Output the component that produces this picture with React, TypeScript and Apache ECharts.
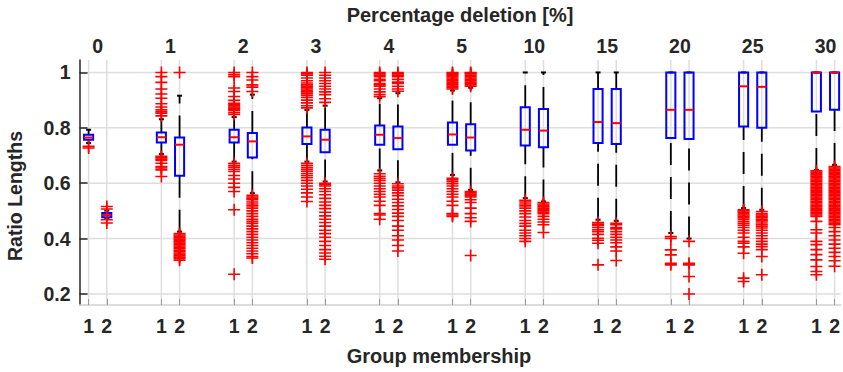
import React, { useEffect, useRef } from 'react';
import * as echarts from 'echarts';

// Percentage deletion groups (top labels)
const percentages = ['0', '1', '2', '3', '4', '5', '10', '15', '20', '25', '30'];
// Group membership labels (bottom labels)
const memberLabels = ['1', '2'];
// Y tick values
const yTickValues = [0.2, 0.4, 0.6, 0.8, 1];

// [lower whisker, q1, median, q3, upper whisker] for group membership 1
const group1Stats: number[][] = [
  [0.745, 0.757, 0.765, 0.775, 0.793],
  [0.705, 0.747, 0.766, 0.783, 0.831],
  [0.678, 0.747, 0.766, 0.793, 0.839],
  [0.678, 0.742, 0.769, 0.801, 0.865],
  [0.646, 0.739, 0.775, 0.808, 0.907],
  [0.63, 0.739, 0.776, 0.819, 0.935],
  [0.546, 0.736, 0.793, 0.874, 1.0],
  [0.468, 0.745, 0.821, 0.94, 1.0],
  [0.42, 0.763, 0.865, 1.0, 1.0],
  [0.51, 0.805, 0.95, 1.0, 1.0],
  [0.648, 0.859, 1.0, 1.0, 1.0],
];

// [lower whisker, q1, median, q3, upper whisker] for group membership 2
const group2Stats: number[][] = [
  [0.472, 0.477, 0.485, 0.492, 0.501],
  [0.425, 0.627, 0.739, 0.765, 0.916],
  [0.564, 0.693, 0.751, 0.781, 0.92],
  [0.606, 0.712, 0.757, 0.793, 0.88],
  [0.603, 0.723, 0.763, 0.805, 0.925],
  [0.576, 0.718, 0.765, 0.813, 0.945],
  [0.534, 0.73, 0.79, 0.868, 1.0],
  [0.464, 0.742, 0.817, 0.94, 1.0],
  [0.4, 0.76, 0.865, 1.0, 1.0],
  [0.504, 0.8, 0.948, 1.0, 1.0],
  [0.666, 0.865, 1.0, 1.0, 1.0],
];

const group1Outliers: number[][] = [
  [0.733, 0.727],
  [1.0, 0.985, 0.964, 0.94, 0.922, 0.907, 0.887, 0.875, 0.865, 0.858, 0.853, 0.843,
    0.697, 0.692, 0.687, 0.682, 0.672, 0.66, 0.655, 0.648, 0.624],
  [1.0, 0.992, 0.985, 0.944, 0.931, 0.913, 0.899, 0.889, 0.884, 0.88, 0.875, 0.871, 0.866, 0.863, 0.855, 0.848,
    0.672, 0.665, 0.658, 0.65, 0.642, 0.628, 0.615, 0.6, 0.585, 0.57, 0.504, 0.271],
  [1.0, 0.995, 0.99, 0.98, 0.97, 0.962, 0.955, 0.95, 0.945, 0.94, 0.935, 0.93, 0.925, 0.918, 0.91, 0.9, 0.89, 0.88, 0.872,
    0.672, 0.665, 0.657, 0.65, 0.643, 0.635, 0.628, 0.62, 0.61, 0.6, 0.59, 0.578, 0.565, 0.55, 0.534],
  [1.0, 0.995, 0.99, 0.985, 0.975, 0.97, 0.96, 0.955, 0.95, 0.94, 0.93, 0.92, 0.912,
    0.634, 0.625, 0.618, 0.61, 0.6, 0.59, 0.58, 0.57, 0.56, 0.55, 0.535, 0.52, 0.49, 0.485, 0.47],
  [1.0, 0.997, 0.993, 0.99, 0.985, 0.98, 0.975, 0.97, 0.965, 0.96, 0.955, 0.95, 0.945, 0.94,
    0.618, 0.612, 0.605, 0.598, 0.59, 0.58, 0.57, 0.56, 0.55, 0.535, 0.52, 0.49, 0.485, 0.48],
  [0.538, 0.532, 0.525, 0.518, 0.51, 0.5, 0.49, 0.478, 0.465, 0.455, 0.445, 0.43, 0.42, 0.41, 0.4, 0.39],
  [0.458, 0.452, 0.447, 0.44, 0.432, 0.425, 0.415, 0.401, 0.394, 0.383, 0.305],
  [0.407, 0.4, 0.359, 0.341, 0.311, 0.305],
  [0.504, 0.5, 0.495, 0.49, 0.485, 0.48, 0.475, 0.47, 0.462, 0.455, 0.448, 0.44, 0.43, 0.42, 0.405,
    0.39, 0.383, 0.37, 0.347, 0.257, 0.245],
  [0.645, 0.64, 0.635, 0.63, 0.625, 0.62, 0.615, 0.61, 0.605, 0.6, 0.595, 0.59, 0.585, 0.58, 0.575, 0.57, 0.565,
    0.56, 0.555, 0.55, 0.545, 0.54, 0.535, 0.53, 0.525, 0.52, 0.515, 0.51, 0.505, 0.5, 0.495, 0.49, 0.485, 0.48,
    0.462, 0.432, 0.42, 0.39, 0.378, 0.36, 0.342, 0.323, 0.299, 0.281, 0.269],
];

const group2Outliers: number[][] = [
  [0.516, 0.507, 0.468, 0.456],
  [1.0, 0.418, 0.413, 0.408, 0.403, 0.398, 0.393, 0.388, 0.383, 0.378, 0.373, 0.368, 0.363, 0.358, 0.353, 0.348,
    0.343, 0.338, 0.333, 0.328, 0.322],
  [1.0, 0.985, 0.973, 0.955, 0.947, 0.931,
    0.556, 0.55, 0.545, 0.54, 0.532, 0.525, 0.518, 0.51, 0.5, 0.49, 0.48, 0.47, 0.462, 0.455,
    0.445, 0.435, 0.425, 0.415, 0.405, 0.395, 0.385, 0.375, 0.365, 0.355, 0.345, 0.335, 0.33],
  [1.0, 0.99, 0.98, 0.97, 0.96, 0.95, 0.94, 0.93, 0.92, 0.905, 0.892,
    0.6, 0.595, 0.59, 0.58, 0.57, 0.558, 0.545, 0.532, 0.52, 0.508, 0.495, 0.482, 0.47, 0.458,
    0.445, 0.43, 0.418, 0.405, 0.39, 0.375, 0.36, 0.348, 0.336, 0.325],
  [1.0, 0.995, 0.99, 0.985, 0.975, 0.965, 0.96, 0.95, 0.94, 0.932,
    0.598, 0.59, 0.583, 0.575, 0.565, 0.555, 0.542, 0.53, 0.518, 0.505, 0.492, 0.48, 0.465,
    0.445, 0.43, 0.41, 0.395, 0.375, 0.355],
  [1.0, 0.998, 0.995, 0.99, 0.985, 0.98, 0.975, 0.97, 0.965, 0.96, 0.955, 0.95,
    0.57, 0.565, 0.56, 0.555, 0.55, 0.54, 0.53, 0.51, 0.49, 0.475, 0.462, 0.339],
  [0.53, 0.525, 0.52, 0.515, 0.51, 0.505, 0.5, 0.495, 0.49, 0.48, 0.47, 0.46, 0.45, 0.422],
  [0.455, 0.45, 0.44, 0.435, 0.425, 0.415, 0.405, 0.395, 0.385, 0.37, 0.355, 0.321],
  [0.39, 0.311, 0.305, 0.263, 0.2],
  [0.498, 0.49, 0.485, 0.48, 0.475, 0.47, 0.465, 0.46, 0.452, 0.445, 0.438, 0.43, 0.42, 0.41, 0.4,
    0.39, 0.38, 0.371, 0.36, 0.335, 0.269],
  [0.66, 0.655, 0.65, 0.645, 0.64, 0.635, 0.63, 0.625, 0.62, 0.615, 0.61, 0.605, 0.6, 0.595, 0.59, 0.585, 0.58,
    0.575, 0.57, 0.565, 0.56, 0.555, 0.55, 0.545, 0.54, 0.535, 0.53, 0.525, 0.52, 0.515, 0.51, 0.505, 0.5, 0.495,
    0.49, 0.485, 0.48, 0.475, 0.47, 0.465, 0.46, 0.455, 0.45, 0.44, 0.425, 0.41, 0.395, 0.38, 0.365, 0.35, 0.335,
    0.32, 0.3],
];

const FONT = '"Liberation Sans", Arial, Helvetica, sans-serif';
const TEXT = '#262626';
const PLUS = 'path://M10.4,0H13.6V10.4H24V13.6H13.6V24H10.4V13.6H0V10.4H10.4Z';

const boxPosition = (g: number, m: number) => g * 4 + m + 1;

export default function App() {
  const ref = useRef<HTMLDivElement>(null);

  useEffect(() => {
    document.body.style.margin = '0';
    const chart = echarts.init(ref.current!, null, { renderer: 'svg' });

    const positions: number[] = [];
    const boxData: number[][] = [];
    const outlierData: number[][] = [];
    percentages.forEach((_, g) => {
      [group1Stats, group2Stats].forEach((stats, m) => {
        const pos = boxPosition(g, m);
        positions.push(pos);
        boxData.push([pos, ...stats[g]]);
        const outs = (m === 0 ? group1Outliers : group2Outliers)[g];
        outs.forEach((v) => outlierData.push([pos, v]));
      });
    });
    const groupCenters = percentages.map((_, g) => boxPosition(g, 0) + 0.5);

    const labelStyle = {
      fontSize: 19.5,
      fontWeight: 'bold' as const,
      color: TEXT,
      fontFamily: FONT,
    };

    const option: any = {
      animation: false,
      grid: { left: 79.5, right: 0, top: 60, bottom: 67 },
      xAxis: [
        {
          type: 'value',
          position: 'bottom',
          min: 0.5,
          max: 42.34,
          axisLine: { show: true, lineStyle: { color: '#cfcfcf', width: 1.5 } },
          axisTick: {
            show: true,
            inside: true,
            length: 6,
            customValues: positions,
            lineStyle: { color: '#9a9a9a', width: 1 },
          },
          axisLabel: {
            ...labelStyle,
            margin: 11,
            customValues: positions,
            formatter: (v: number) => memberLabels[(Math.round(v) - 1) % 4] ?? '',
          },
          splitLine: { show: false },
        },
        {
          type: 'value',
          position: 'top',
          min: 0.5,
          max: 42.34,
          axisLine: { show: false },
          axisTick: { show: false },
          axisLabel: {
            ...labelStyle,
            margin: 4,
            customValues: groupCenters,
            formatter: (v: number) => percentages[Math.round((v - 1.5) / 4)] ?? '',
          },
          splitLine: { show: false },
        },
      ],
      yAxis: {
        type: 'value',
        min: 0.16,
        max: 1.045,
        axisLine: { show: true, lineStyle: { color: TEXT, width: 1.5 } },
        axisTick: {
          show: true,
          inside: true,
          length: 8,
          customValues: yTickValues,
          lineStyle: { color: TEXT, width: 1.5 },
        },
        axisLabel: {
          ...labelStyle,
          margin: 9,
          customValues: yTickValues,
          formatter: (v: number) => (Math.abs(v - 1) < 1e-9 ? '1' : v.toFixed(1)),
        },
        splitLine: { show: false },
      },
      graphic: [
        {
          type: 'text',
          x: 460,
          y: 15,
          style: {
            text: 'Percentage deletion [%]',
            font: `bold 20px ${FONT}`,
            fill: TEXT,
            align: 'center',
            verticalAlign: 'middle',
          },
        },
        {
          type: 'text',
          x: 439,
          y: 356,
          style: {
            text: 'Group membership',
            font: `bold 20px ${FONT}`,
            fill: TEXT,
            align: 'center',
            verticalAlign: 'middle',
          },
        },
        {
          type: 'text',
          x: 15,
          y: 196,
          rotation: Math.PI / 2,
          style: {
            text: 'Ratio Lengths',
            font: `bold 19.5px ${FONT}`,
            fill: TEXT,
            align: 'center',
            verticalAlign: 'middle',
          },
        },
      ],
      series: [
        {
          type: 'custom',
          name: 'hgrid',
          silent: true,
          z: 0,
          data: yTickValues.map((v) => [0.5, v]),
          renderItem: (params: any, api: any) => {
            const cs = params.coordSys;
            const y = api.coord([0.5, api.value(1)])[1];
            return {
              type: 'line',
              shape: { x1: cs.x, y1: y, x2: cs.x + cs.width, y2: y },
              style: { stroke: '#dedede', lineWidth: 1.5 },
            };
          },
        },
        {
          type: 'custom',
          name: 'vgrid',
          silent: true,
          z: 0,
          data: positions.map((p) => [p, 0.5]),
          renderItem: (params: any, api: any) => {
            const cs = params.coordSys;
            const x = api.coord([api.value(0), 0.5])[0];
            return {
              type: 'line',
              shape: { x1: x, y1: cs.y, x2: x, y2: cs.y + cs.height },
              style: { stroke: '#dedede', lineWidth: 1.5 },
            };
          },
        },
        {
          type: 'custom',
          name: 'boxes',
          silent: true,
          z: 2,
          data: boxData,
          encode: { x: 0, y: [1, 2, 3, 4, 5] },
          renderItem: (params: any, api: any) => {
            const x = api.value(0);
            const lo = api.value(1);
            const q1 = api.value(2);
            const med = api.value(3);
            const q3 = api.value(4);
            const hi = api.value(5);
            const px = api.coord([x, med])[0];
            const yLo = api.coord([x, lo])[1];
            const yQ1 = api.coord([x, q1])[1];
            const yMed = api.coord([x, med])[1];
            const yQ3 = api.coord([x, q3])[1];
            const yHi = api.coord([x, hi])[1];
            const halfW = api.size([0.5, 0])[0] / 2;
            const capW = 2.5;
            const children: any[] = [];
            const dash = { stroke: '#000', lineWidth: 1.8, lineDash: [22, 12], fill: null };
            if (yLo - yQ1 > 0.5) {
              children.push({ type: 'line', shape: { x1: px, y1: yLo, x2: px, y2: yQ1 }, style: dash });
            }
            if (yQ3 - yHi > 0.5) {
              children.push({ type: 'line', shape: { x1: px, y1: yQ3, x2: px, y2: yHi }, style: dash });
            }
            children.push({
              type: 'line',
              shape: { x1: px - capW, y1: yLo, x2: px + capW, y2: yLo },
              style: { stroke: '#000', lineWidth: 2 },
            });
            children.push({
              type: 'line',
              shape: { x1: px - capW, y1: yHi, x2: px + capW, y2: yHi },
              style: { stroke: '#000', lineWidth: 2 },
            });
            children.push({
              type: 'rect',
              shape: { x: px - halfW, y: yQ3, width: halfW * 2, height: Math.max(yQ1 - yQ3, 1) },
              style: { fill: 'none', stroke: '#0000ff', lineWidth: 2 },
            });
            children.push({
              type: 'line',
              shape: { x1: px - halfW, y1: yMed, x2: px + halfW, y2: yMed },
              style: { stroke: '#ff0000', lineWidth: 2 },
            });
            return { type: 'group', children };
          },
        },
        {
          type: 'scatter',
          name: 'outliers',
          silent: true,
          z: 3,
          symbol: PLUS,
          symbolSize: 12,
          itemStyle: { color: '#ff0000', opacity: 1 },
          data: outlierData,
        },
      ],
    };

    chart.setOption(option);
    return () => chart.dispose();
  }, []);

  return <div ref={ref} style={{ width: 843, height: 372 }} />;
}
